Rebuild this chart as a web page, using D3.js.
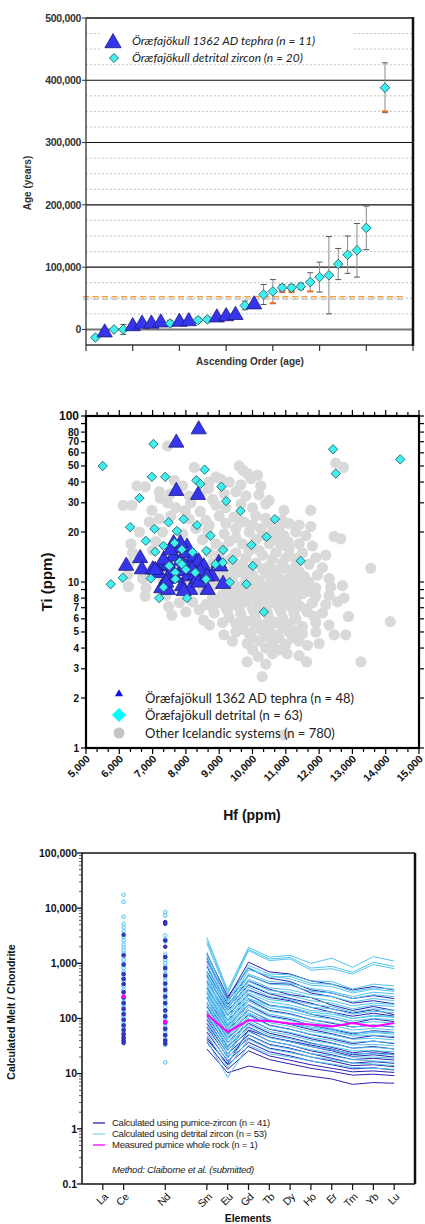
<!DOCTYPE html>
<html><head><meta charset="utf-8">
<script src="https://cdn.jsdelivr.net/npm/d3@7"></script>
<style>body{margin:0;background:#fff} svg{display:block}</style>
</head><body>
<svg id="c" width="425" height="1224"></svg>
<script>
// ---------------- DATA ----------------
// Panel A: ages in ascending order
const ageIndex = [1,2,3,4,5,6,7,8,9,10,11,12,13,14,15,16,17,18,19,20,21,22,23,24,25,26,27,28,29,30,32];
const ageType  = ['z','t','z','z','t','t','t','t','z','t','t','z','z','t','t','t','z','t','z','z','z','z','z','z','z','z','z','z','z','z','z'];
const ageValue = [-13000,-5000,0,0,5000,9000,9000,11000,9600,12000,13000,15000,16000,19000,21000,23000,38500,40000,56000,61000,67000,67000,69000,76000,84000,87000,105000,120000,127000,163000,388000];
const ageError = [0,0,0,8000,0,0,0,0,5000,0,0,4000,4000,0,0,0,7000,0,16000,19000,5000,5000,5000,15000,24000,62000,25000,30000,43000,35000,40000];
const orangeIndex = [20,21,22,24,32];
const orangeAge = [42000,60000,60000,61000,350000];
const ageTicks = [0,100000,200000,300000,400000,500000];
const legendA = ['Öræfajökull 1362 AD tephra (n = 11)','Öræfajökull  detrital zircon (n = 20)'];

// Panel B: Hf vs Ti
const tephraHfTi = [[8384,83],[7712,69],[7712,35.3],[8364,33.4],[6206,12.5],[6627,13.9],[6677,11.9],[7009,11.9],[7280,12.4],[7481,12.7],
 [7631,14.2],[7752,16],[7832,13.3],[8013,14.9],[8133,13],[8234,14.2],[8384,13.3],[8535,12.4],[7581,11.3],[7832,11.6],
 [8053,10.8],[8284,11],[8434,11.6],[7260,9.16],[7461,8.95],[7882,9.4],[8133,8.95],[8655,8.95],[9117,9.72],[8987,13],
 [7430,10.4],[7681,10.6],[7983,12.4],[8334,10.4],[8786,10.8],[7179,11.3],[8033,16.3],[7631,17.1],[7832,17.1],[8384,9.9],
 [7079,11.8],[7330,13.6],[8635,10.8],[7531,15.5],[7932,8.8],[9037,12.4],[8183,11.8],[7410,9.9]];
const detritalHfTi = [[5503,50],[7027,67.8],[12419,63],[14437,54.8],[12500,45],[8563,47.5],[6978,43],[7380,43],[8313,41],[8434,39],
 [9066,37.5],[6606,32],[9208,30.7],[9639,26.8],[10672,23.9],[6325,21.4],[7058,20.9],[7480,22.9],[7932,23.9],[8334,22],
 [7731,20.3],[8735,19],[10422,18.7],[6797,17.7],[7329,16.5],[7660,17.2],[9970,16.7],[7078,15.2],[8614,15.4],[9117,15.6],
 [11446,13.4],[9407,13.6],[8886,12.8],[9106,13.1],[10009,12.5],[7811,13.2],[8283,11.4],[7882,12.8],[7681,11.4],[6948,10.5],
 [6105,10.6],[5744,9.7],[7329,9.3],[7681,10.4],[8605,10.4],[9316,9.96],[9819,9.7],[7199,8.0],[8033,8.0],[10341,6.6],
 [7880,15.7],[8200,15.1],[7500,12.5],[8000,11.9]];
const otherHfTi = [[7450,66],[8250,49],[9600,50],[9720,47],[12730,49],[12500,52],
 [9850,45],[8900,43],[9950,42],[10150,44],[8700,40],[7650,41],[9650,38.5],[10250,38],[6530,38],[6780,37.5],[7900,38],[8680,36.5],[9300,40],[9050,41.5],
 [7200,35],[7530,34],[7230,32],[10190,33.5],[9500,35],[8100,33],[8450,34],[9800,33],[9150,34],[10500,31],[8800,31.5],
 [6120,29],[6380,29],[6980,27],[7450,30],[7700,28],[7980,27],[8430,26.6],[8900,29],[9200,28],[9650,29.5],[10000,28],[10400,29.5],[10943,27],[11750,27],[8150,30],
 [9440,24.6],[10390,24.2],[10890,23.6],[7200,24],[7550,25],[8100,24],[8600,23.5],[9000,25],[9750,23],[10100,25],[11100,22.5],[11750,21.6],[11400,22],[6900,23],
 [6600,20],[7300,20],[7900,19.5],[8300,21],[8650,20.5],[9150,19.5],[9500,21],[9900,20],[10250,21],[10600,20],[10950,19],[11300,20],[11600,19],
 [12450,18.8],[12650,18.2],[11070,17.5],[6350,17],[7100,17.5],[8500,18],[9300,17.5],[9700,17],[10100,18],[10500,17],[10850,16.5],[11400,17],[11800,16.5],
 [6400,15],[7000,15.5],[8700,15],[9100,16],[9500,15],[9900,15.5],[10300,14.5],[10700,15],[11100,14.5],[11500,15],[11900,14],[12200,14.5],
 [6300,13],[8800,13],[9300,13.5],[9700,12.8],[10100,13],[10500,12.5],[10900,13],[11300,12.5],[11700,12.8],[12100,12.2],[13550,12.1],
 [6250,11],[8900,11.5],[9250,11],[9600,11.5],[10000,11],[10400,11.3],[10750,10.8],[11150,11],[11550,10.8],[11950,11],[12300,10.5],
 [6275,9.4],[6800,9.2],[8800,9.5],[9200,9.8],[9550,9.4],[9950,9.6],[10350,9.3],[10700,9.7],[11100,9.4],[11500,9.6],[11900,9.2],[12350,9.36],[12700,9.5],
 [6780,8.2],[7400,8.3],[9100,8.4],[9500,8.2],[9900,8.5],[10300,8.2],[10700,8.4],[11100,8.1],[11500,8.5],[11900,8.2],[12300,8.3],[12750,8],
 [7480,7.1],[7800,7.5],[8200,7.6],[8600,7.3],[9000,7.5],[9400,7.4],[9800,7.6],[10200,7.3],[10600,7.5],[11000,7.4],[11400,7.2],[11800,7.5],[12200,7.3],[12550,7.6],
 [7580,6.3],[8000,6.6],[8400,6.8],[8850,6.5],[9250,6.7],[9650,6.4],[10050,6.6],[10450,6.5],[10850,6.7],[11250,6.4],[11650,6.6],[11846,6.2],[12100,6.5],[12880,6.2],[14136,5.77],
 [8530,5.9],[8710,5.5],[9100,5.7],[9500,5.6],[9900,5.8],[10300,5.5],[10700,5.7],[11100,5.6],[11500,5.4],[11900,5.7],[12300,5.5],
 [9140,4.8],[9500,5],[9900,4.9],[10300,5.1],[10700,4.8],[11100,5],[11500,4.9],[11900,5],[12450,4.8],[12800,4.8],
 [9840,4.26],[9400,4.4],[10200,4.4],[10600,4.3],[11000,4.2],[11400,4.4],[11650,4.16],[12000,4.26],
 [10170,3.55],[10600,3.7],[11043,3.7],[11400,3.6],
 [9840,3.3],[11626,3.3],[13253,3.3],[10400,3.2],
 [10290,2.69],[10943,1.2],
 [7500,12],[8000,10],[7800,14],[8300,12],[7000,12],[6700,10.5],[8500,9],[7300,10.5],
 [8700,22],[9200,22.5],[9600,23.5],[10000,22],[10500,22.5],[10800,21],
 [8900,17],[9500,18.5],[10300,19],[10700,18],[11100,16],
 [9000,14.5],[9400,14],[9800,14],[10200,15.5],[10600,13.8],[11000,14],[11300,13.8],
 [9000,12],[9450,12.3],[9850,11.8],[10300,12],[10700,11.8],[11000,12],[11400,11.6],
 [9050,10.3],[9400,10.5],[9800,10.3],[10200,10.2],[10550,10.3],[10950,10.2],[11300,10.1],[11700,10],
 [9300,9],[9700,8.9],[10100,8.8],[10500,8.9],[10900,8.8],[11300,8.9],[11700,8.8],
 [8800,8],[9300,7.9],[9700,7.9],[10100,7.9],[10500,7.9],[10900,7.9],[11300,7.8],
 [8800,7],[9200,7],[9600,7],[10000,6.9],[10400,7],[10800,7],[11200,6.9],[11600,6.9],
 [9300,6.1],[9700,6],[10100,6.1],[10500,6],[10900,6.1],[11300,6],
 [9700,5.2],[10100,5.3],[10500,5.2],[10900,5.3],[11300,5.1],
 [10000,4.6],[10400,4.7],[10800,4.6],[11200,4.6],
 [10000,3.9],[10400,4],[10800,3.9]];
const hfTicks = [5000,6000,7000,8000,9000,10000,11000,12000,13000,14000,15000];
const tiLabels = [1,2,3,4,5,6,7,8,10,20,30,40,50,60,70,80,100];
const legendB = ['Öræfajökull 1362 AD tephra (n = 48)','Öræfajökull detrital (n = 63)','Other Icelandic systems (n = 780)'];

// Panel C: REE patterns
const elements = ['La','Ce','Nd','Sm','Eu','Gd','Tb','Dy','Ho','Er','Tm','Yb','Lu'];
const atomicNo = [57,58,60,62,63,64,65,66,67,68,69,70,71];
const lineElements = ['Sm','Eu','Gd','Tb','Dy','Ho','Er','Tm','Yb','Lu'];
const detritalLines = [
 [2950,330,1950,1300,1400,1000,1240,850,1320,1100],
 [2600,300,1800,1200,1280,820,880,690,1050,880],
 [2300,280,1700,1120,1200,750,800,640,950,800],
 [1600,210,920,640,620,480,470,340,420,390],
 [1350,190,840,560,580,430,420,310,360,340],
 [1200,160,760,600,520,400,380,290,340,310],
 [980,150,640,470,440,350,310,250,300,280],
 [850,140,600,420,400,310,290,230,270,250],
 [720,120,520,360,330,270,250,200,230,210],
 [640,110,470,320,300,240,210,170,190,180],
 [560,95,420,290,260,210,190,150,175,165],
 [500,90,370,250,220,180,165,130,150,140],
 [440,80,320,220,200,160,150,120,135,128],
 [400,75,290,200,175,140,130,100,115,108],
 [350,68,260,170,150,120,110,90,100,95],
 [320,62,230,155,135,110,98,80,88,82],
 [290,58,205,135,118,95,85,70,76,72],
 [250,52,180,120,102,85,75,62,66,62],
 [230,48,160,108,92,76,66,55,58,55],
 [200,44,142,95,80,66,58,48,50,47],
 [180,40,128,84,72,58,51,42,44,41],
 [160,36,112,74,63,52,45,37,39,36],
 [140,32,98,65,56,45,40,33,34,32],
 [125,29,88,58,50,40,35,29,30,28],
 [105,26,77,50,43,35,31,26,26,25],
 [92,23,68,45,38,31,27,23,23,22],
 [78,19,58,39,33,27,24,20,20,19],
 [64,16,50,33,28,23,21,18,17,16],
 [52,13,42,28,24,20,18,15.5,15,14],
 [40,8.5,33,23,20,17,15,13,12.5,12],
 [700,60,230,170,160,130,120,100,110,105],
 [300,20,120,90,80,70,62,50,56,52]];
const pumiceLines = [
 [1500,250,820,540,470,330,290,230,260,230],
 [1100,230,1050,700,640,480,420,330,380,330],
 [1250,210,600,430,420,290,250,190,210,185],
 [880,180,480,340,270,240,175,140,165,140],
 [720,160,400,280,230,190,150,125,145,117],
 [600,140,330,240,210,160,130,110,125,110],
 [470,115,270,175,155,120,100,82,98,88],
 [360,92,220,140,122,96,82,70,76,70],
 [290,74,175,112,96,76,63,53,60,56],
 [240,62,142,92,78,63,53,43,49,45],
 [195,52,118,76,64,51,43,35,39,35],
 [165,44,98,64,54,43,36,29,31,28],
 [135,37,82,54,45,36,30,24,26,23],
 [112,31,70,46,38,31,26,20.5,22,20],
 [96,27,60,39,33,26,22,18,19,17.6],
 [82,23,51,34,29,23,19,15.5,16.5,15.4],
 [70,20,44,29,25,20,17,14,14.5,13.4],
 [57,17,37,25,21,17,14.5,12.2,12.8,11.6],
 [46,14.5,31,21,17.5,14.5,12.5,10.8,11.2,10.5],
 [37,12,26,18,15,12.5,11,9.4,9.8,9.2],
 [28,10.4,13.7,11.8,10,9,8,6.4,6.9,6.7],
 [42,15,62,46,39,33,28,22,24,22]];
const wholeRock = [119,57,93,90,81,78,72,83,72,83];
const ceDetrital = [17500,13000,7000,5200,4500,3800,3000,2600,2200,1900,1700,1500,1300,1150,1000,900,820,700,620,550,480,420,380,330,300,260,230,200,180,160,140,125,110,100,90,80,72,65,58,52,47,42,38];
const cePumice = [3300,1400,950,640,520,420,300,240,190,150,120,95,75,62,52,45,40,36];
const ndDetrital = [8500,7300,3200,2700,2500,1450,1300,1150,1000,880,760,650,560,480,420,360,320,280,240,210,185,160,140,120,105,92,80,70,62,55,48,42,37,33,16];
const ndPumice = [5600,5200,2600,2000,1300,820,600,430,330,250,190,140,110,85,65,50,40,35];
const ceWholeRock = 250, ndWholeRock = 87;
const meltTicks = [0.1,1,10,100,1000,10000,100000];
const meltTickLabels = ['0.1','1','10','100','1,000','10,000','100,000'];
const legendC = ['Calculated using pumice-zircon (n = 41)','Calculated using detrital zircon (n = 53)','Measured pumice whole rock (n = 1)'];

// ---------------- DRAW ----------------
const svg = d3.select('#c');
const F = '"Liberation Sans", Arial, Helvetica, sans-serif';
const BLUE = '#3535ee', BLUE_S = '#1c1c7a', CYAN = '#3ef0f0', CYAN_S = '#255a60';
const tri = s => d3.symbol(d3.symbolTriangle, s)();
const sq = s => d3.symbol(d3.symbolSquare, s)();

// ===== Panel A =====
{
 const x = d3.scaleLinear().domain([0,35]).range([86,413]);
 const y = d3.scaleLinear().domain([-25000,500000]).range([345,18]);
 const g = svg.append('g');
 const minor = d3.range(25000, 500000, 25000).filter(v => v % 100000 !== 0);
 g.selectAll('.mg').data(minor).join('line')
  .attr('x1',86).attr('x2',413).attr('y1',d=>y(d)).attr('y2',d=>y(d))
  .attr('stroke','#999').attr('stroke-width',0.8).attr('stroke-dasharray','1.5,2.5');
 g.append('rect').attr('x',100).attr('y',26).attr('width',252).attr('height',36).attr('fill','#fff');
 g.selectAll('.Mg').data(ageTicks.filter(v=>v>0 && v<500000)).join('line')
  .attr('x1',86).attr('x2',413).attr('y1',d=>y(d)).attr('y2',d=>y(d))
  .attr('stroke','#111').attr('stroke-width',1.1);
 g.append('line').attr('x1',86).attr('x2',413).attr('y1',y(0)).attr('y2',y(0)).attr('stroke','#777').attr('stroke-width',2);
 g.append('line').attr('x1',83).attr('x2',404).attr('y1',y(48500)).attr('y2',y(48500))
  .attr('stroke','#c8c8c8').attr('stroke-width',1.6).attr('stroke-dasharray','6,3.5');
 g.append('line').attr('x1',83).attr('x2',404).attr('y1',y(52500)).attr('y2',y(52500))
  .attr('stroke','#f4a040').attr('stroke-width',1.6).attr('stroke-dasharray','6,3.5');
 g.append('line').attr('x1',86).attr('x2',413).attr('y1',18).attr('y2',18).attr('stroke','#111').attr('stroke-width',1.5);
 g.append('line').attr('x1',86).attr('x2',413).attr('y1',345).attr('y2',345).attr('stroke','#333').attr('stroke-width',1.3);
 g.append('line').attr('x1',86).attr('x2',86).attr('y1',18).attr('y2',345).attr('stroke','#333').attr('stroke-width',1.3);
 g.append('line').attr('x1',413).attr('x2',413).attr('y1',17).attr('y2',346).attr('stroke','#111').attr('stroke-width',2.5);
 g.selectAll('.yt').data(ageTicks).join('line').attr('x1',82).attr('x2',86).attr('y1',d=>y(d)).attr('y2',d=>y(d)).attr('stroke','#333');
 g.selectAll('.yl').data(ageTicks).join('text').attr('x',81).attr('y',d=>y(d)).attr('dy','0.35em')
  .attr('text-anchor','end').attr('font-family',F).attr('font-weight','bold').attr('font-size',10.5).attr('letter-spacing',-0.3).attr('fill','#333')
  .text(d=>d3.format(',')(d));
 g.selectAll('.xt').data(d3.range(0,36,5)).join('line').attr('x1',d=>x(d)).attr('x2',d=>x(d)).attr('y1',345).attr('y2',351).attr('stroke','#333').attr('stroke-width',1.2);
 g.append('text').attr('transform','translate(31,183) rotate(-90)').attr('text-anchor','middle')
  .attr('font-family',F).attr('font-weight','bold').attr('font-size',10).attr('fill','#333').text('Age (years)');
 g.append('text').attr('x',250).attr('y',365).attr('text-anchor','middle')
  .attr('font-family',F).attr('font-weight','bold').attr('font-size',10).attr('fill','#333').text('Ascending Order (age)');
 const pts = ageIndex.map((d,i)=>({i:d,t:ageType[i],v:ageValue[i],e:ageError[i]}));
 const eb = pts.filter(p=>p.e>0);
 g.selectAll('.eb').data(eb).join('line').attr('x1',d=>x(d.i)).attr('x2',d=>x(d.i)).attr('y1',d=>y(d.v-d.e)).attr('y2',d=>y(d.v+d.e)).attr('stroke','#8a8a8a').attr('stroke-width',1);
 g.selectAll('.ebt').data(eb).join('line').attr('x1',d=>x(d.i)-3).attr('x2',d=>x(d.i)+3).attr('y1',d=>y(d.v+d.e)).attr('y2',d=>y(d.v+d.e)).attr('stroke','#555').attr('stroke-width',1);
 g.selectAll('.ebb').data(eb).join('line').attr('x1',d=>x(d.i)-3).attr('x2',d=>x(d.i)+3).attr('y1',d=>y(d.v-d.e)).attr('y2',d=>y(d.v-d.e)).attr('stroke','#555').attr('stroke-width',1);
 g.selectAll('.or').data(orangeIndex).join('line').attr('x1',d=>x(d)-3).attr('x2',d=>x(d)+3)
  .attr('y1',(d,i)=>y(orangeAge[i])).attr('y2',(d,i)=>y(orangeAge[i])).attr('stroke','#f06a20').attr('stroke-width',2);
 g.selectAll('.pt').data(pts).join('path')
  .attr('d',d=>d.t==='t'?tri(100):sq(46))
  .attr('transform',d=>`translate(${x(d.i)},${y(d.v)})`+(d.t==='t'?'':' rotate(45)'))
  .attr('fill',d=>d.t==='t'?BLUE:CYAN).attr('stroke',d=>d.t==='t'?BLUE_S:CYAN_S).attr('stroke-width',0.8);
 g.append('path').attr('d',tri(115)).attr('transform','translate(113,43)').attr('fill',BLUE).attr('stroke',BLUE_S).attr('stroke-width',0.8);
 g.append('path').attr('d',sq(42)).attr('transform','translate(114,58) rotate(45)').attr('fill',CYAN).attr('stroke',CYAN_S).attr('stroke-width',0.8);
 g.selectAll('.lt').data(legendA).join('text').attr('x',132).attr('y',(d,i)=>45+i*17)
  .attr('font-family','Lato, "Open Sans", sans-serif').attr('font-style','italic').attr('font-size',12).attr('fill','#222').text(d=>d);
}

// ===== Panel B =====
{
 const L=86,R=419,T=416,B=748;
 const x = d3.scaleLinear().domain([5000,15000]).range([L,R]);
 const y = d3.scaleLog().domain([1,100]).range([B,T]);
 const g = svg.append('g');
 g.selectAll('.o').data(otherHfTi).join('circle').attr('cx',d=>x(d[0])).attr('cy',d=>y(d[1])).attr('r',5.6).attr('fill','#d9d9d9');
 g.selectAll('.t').data(tephraHfTi).join('path').attr('d',tri(100))
  .attr('transform',d=>`translate(${x(d[0])},${y(d[1])})`).attr('fill',BLUE).attr('stroke',BLUE_S).attr('stroke-width',0.8);
 g.selectAll('.d').data(detritalHfTi).join('path').attr('d',sq(44))
  .attr('transform',d=>`translate(${x(d[0])},${y(d[1])}) rotate(45)`).attr('fill',CYAN).attr('stroke',CYAN_S).attr('stroke-width',0.8);
 g.append('rect').attr('x',L).attr('y',T).attr('width',R-L).attr('height',B-T).attr('fill','none').attr('stroke','#000').attr('stroke-width',2.2);
 const logT = [];
 for (let dec of [1,10]) for (let k=1;k<=9;k++) logT.push(dec*k);
 logT.push(100);
 g.selectAll('.lt').data(logT).join('line').attr('x1',L-5).attr('x2',L-1).attr('y1',d=>y(d)).attr('y2',d=>y(d)).attr('stroke','#000').attr('stroke-width',1.2);
 g.selectAll('.rt').data(logT).join('line').attr('x1',R+1).attr('x2',R+5).attr('y1',d=>y(d)).attr('y2',d=>y(d)).attr('stroke','#000').attr('stroke-width',1.2);
 g.selectAll('.yl').data(tiLabels).join('text').attr('x',79).attr('y',d=>y(d)).attr('dy','0.35em').attr('text-anchor','end')
  .attr('font-family',F).attr('font-weight','bold').attr('font-size',d=>d===100?12:10).attr('fill','#111').text(d=>d);
 const hfMinor = d3.range(0,31).map(i=>5000+i*1000/3);
 g.selectAll('.bt').data(hfMinor).join('line').attr('x1',d=>x(d)).attr('x2',d=>x(d)).attr('y1',B+1).attr('y2',(d,i)=>i%3===0?B+6:B+4).attr('stroke','#000').attr('stroke-width',1.2);
 g.selectAll('.tt').data(hfMinor).join('line').attr('x1',d=>x(d)).attr('x2',d=>x(d)).attr('y1',T-1).attr('y2',(d,i)=>i%3===0?T-6:T-4).attr('stroke','#000').attr('stroke-width',1.2);
 g.selectAll('.xl').data(hfTicks).join('text').attr('transform',d=>`translate(${x(d)+2},${B+9}) rotate(-45)`)
  .attr('dy','0.35em').attr('text-anchor','end').attr('font-family',F).attr('font-weight','bold').attr('font-size',10.5).attr('fill','#111')
  .text(d=>d3.format(',')(d));
 g.append('text').attr('transform','translate(52,582) rotate(-90)').attr('text-anchor','middle')
  .attr('font-family',F).attr('font-weight','bold').attr('font-size',15).attr('fill','#111').text('Ti (ppm)');
 g.append('text').attr('x',252).attr('y',820).attr('text-anchor','middle')
  .attr('font-family',F).attr('font-weight','bold').attr('font-size',14).attr('fill','#111').text('Hf (ppm)');
 g.append('path').attr('d',tri(28)).attr('transform','translate(119,694)').attr('fill','#1010ee');
 g.append('path').attr('d',sq(100)).attr('transform','translate(119,715) rotate(45)').attr('fill','#00ffff');
 g.append('circle').attr('cx',119).attr('cy',733).attr('r',5.5).attr('fill','#c4c4c4');
 g.selectAll('.lg').data(legendB).join('text').attr('x',145).attr('y',(d,i)=>[703,720,738][i])
  .attr('font-family','Lato, "Open Sans", sans-serif').attr('font-size',13).attr('fill','#222').text(d=>d);
}

// ===== Panel C =====
{
 const L=82,R=415,T=853,B=1184;
 const x = d3.scaleLinear().domain([56,72]).range([L,R]);
 const y = d3.scaleLog().domain([0.1,100000]).range([B,T]);
 const g = svg.append('g');
 const z = Object.fromEntries(elements.map((e,i)=>[e,atomicNo[i]]));
 const line = d3.line().x((d,i)=>x(z[lineElements[i]])).y(d=>y(d));
 const n = Math.max(detritalLines.length, pumiceLines.length);
 for (let i=0;i<n;i++){
  if (i<detritalLines.length) g.append('path').attr('d',line(detritalLines[i])).attr('fill','none').attr('stroke','#52c4ee').attr('stroke-width',1);
  if (i<pumiceLines.length) g.append('path').attr('d',line(pumiceLines[i])).attr('fill','none').attr('stroke','#2a22b0').attr('stroke-width',1);
 }
 g.append('path').attr('d',line(wholeRock)).attr('fill','none').attr('stroke','#ff00ff').attr('stroke-width',2);
 const dot = (vals, el, fill, stroke) => g.selectAll(null).data(vals).join('circle')
   .attr('cx',x(z[el])).attr('cy',d=>y(d)).attr('r',1.8).attr('fill',fill).attr('stroke',stroke).attr('stroke-width',0.9);
 dot(ceDetrital,'Ce','#e8f8ff','#45bdf0'); dot(ndDetrital,'Nd','#e8f8ff','#45bdf0');
 dot(cePumice,'Ce','#3a3ad0','#2020a0'); dot(ndPumice,'Nd','#3a3ad0','#2020a0');
 dot([ceWholeRock],'Ce','#ff00ff','#ff00ff'); dot([ndWholeRock],'Nd','#ff00ff','#ff00ff');
 g.append('line').attr('x1',L).attr('x2',R).attr('y1',T).attr('y2',T).attr('stroke','#111').attr('stroke-width',1.5);
 g.append('line').attr('x1',R).attr('x2',R).attr('y1',T).attr('y2',B).attr('stroke','#111').attr('stroke-width',2.5);
 g.append('line').attr('x1',L).attr('x2',R).attr('y1',B).attr('y2',B).attr('stroke','#111').attr('stroke-width',1.5);
 g.append('line').attr('x1',L).attr('x2',L).attr('y1',T).attr('y2',B).attr('stroke','#111').attr('stroke-width',1.5);
 const minorT = [];
 for (let e=-1;e<5;e++) for (let k=2;k<=9;k++) minorT.push(k*Math.pow(10,e));
 g.selectAll('.mt').data(minorT).join('line').attr('x1',L-3).attr('x2',L).attr('y1',d=>y(d)).attr('y2',d=>y(d)).attr('stroke','#333').attr('stroke-width',0.8);
 g.selectAll('.Mt').data(meltTicks).join('line').attr('x1',L-5).attr('x2',L).attr('y1',d=>y(d)).attr('y2',d=>y(d)).attr('stroke','#111').attr('stroke-width',1.3);
 g.selectAll('.yl').data(meltTicks).join('text').attr('x',77).attr('y',d=>y(d)).attr('dy','0.35em').attr('text-anchor','end')
  .attr('font-family',F).attr('font-weight','bold').attr('font-size',10.5).attr('fill','#111').text((d,i)=>meltTickLabels[i]);
 g.selectAll('.xt').data(atomicNo).join('line').attr('x1',d=>x(d)).attr('x2',d=>x(d)).attr('y1',B).attr('y2',B+6).attr('stroke','#111').attr('stroke-width',1.2);
 g.selectAll('.xl').data(elements).join('text').attr('transform',(d,i)=>`translate(${x(atomicNo[i])+3},${B+11}) rotate(-45)`)
  .attr('dy','0.35em').attr('text-anchor','end').attr('font-family',F).attr('font-size',10.5).attr('letter-spacing',-0.5).attr('fill','#111').text(d=>d);
 g.append('text').attr('transform','translate(15,1012) rotate(-90)').attr('text-anchor','middle')
  .attr('font-family',F).attr('font-weight','bold').attr('font-size',10.5).attr('fill','#111').text('Calculated Melt / Chondrite');
 g.append('text').attr('x',248).attr('y',1222).attr('text-anchor','middle')
  .attr('font-family',F).attr('font-weight','bold').attr('font-size',10.5).attr('fill','#111').text('Elements');
 const lc = ['#2a22b0','#7fd8f5','#ff00ff'];
 g.selectAll('.ll').data(legendC).join('line').attr('x1',93).attr('x2',105).attr('y1',(d,i)=>1123+i*11).attr('y2',(d,i)=>1123+i*11).attr('stroke',(d,i)=>lc[i]).attr('stroke-width',1.3);
 g.selectAll('.lx').data(legendC).join('text').attr('x',112).attr('y',(d,i)=>1123+i*11).attr('dy','0.35em')
  .attr('font-family',F).attr('font-size',9.5).attr('letter-spacing',-0.25).attr('fill','#222').text(d=>d);
 g.append('text').attr('x',112).attr('y',1170).attr('dy','0.35em').attr('font-family',F).attr('font-style','italic')
  .attr('font-size',9.5).attr('letter-spacing',-0.25).attr('fill','#222').text('Method: Claiborne et al. (submitted)');
}
</script></body></html>
